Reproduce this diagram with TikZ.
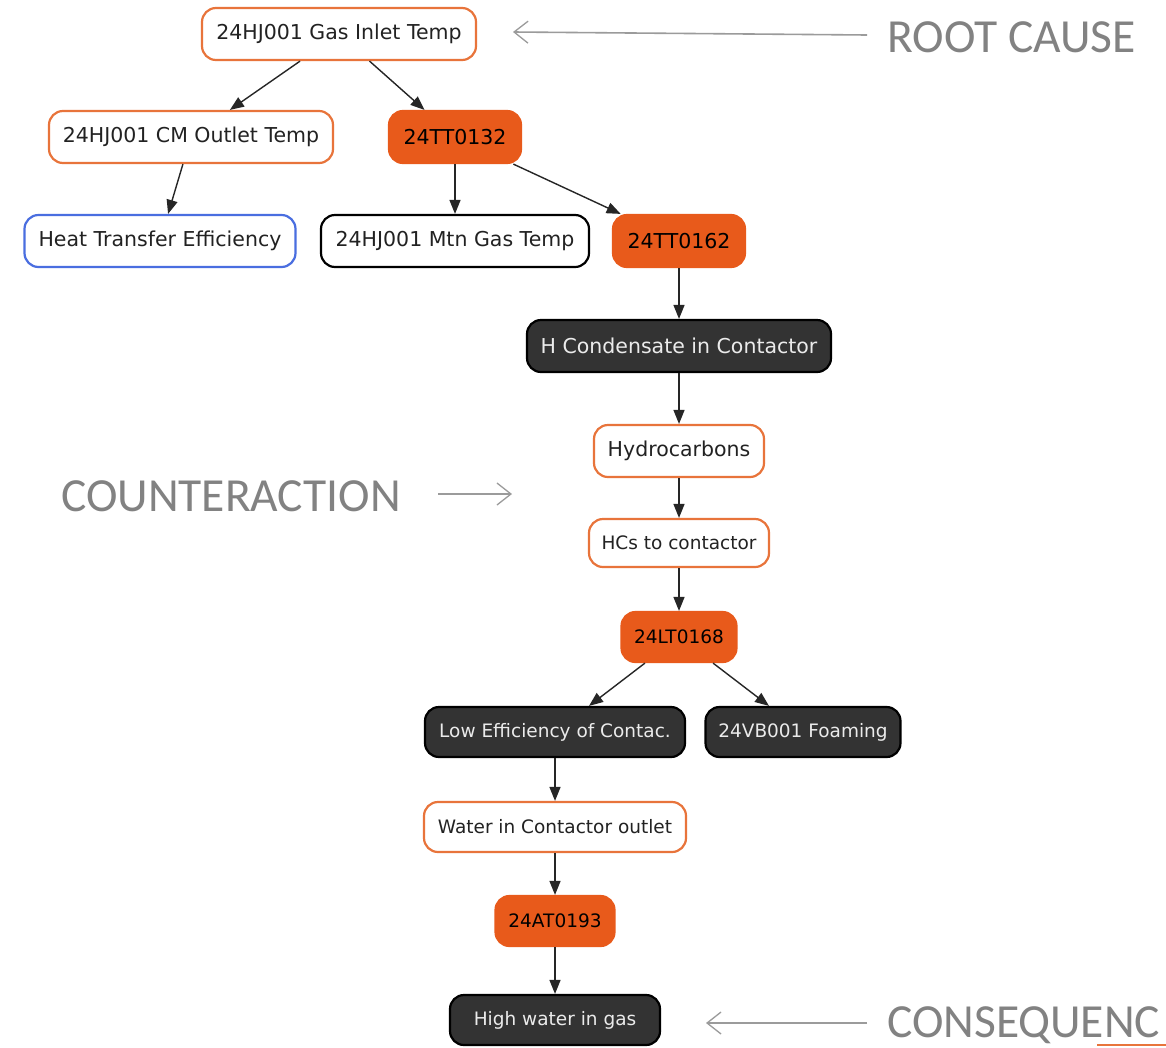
\documentclass[tikz,border=0pt]{standalone}
\usepackage{fontspec}
\setmainfont{DejaVu Sans}
\newfontfamily\annfont{Carlito}
\usetikzlibrary{arrows.meta}
\definecolor{gvorange}{HTML}{E85A1B}
\definecolor{gvorangeline}{HTML}{E8743B}
\definecolor{gvdark}{HTML}{333333}
\definecolor{gvblue}{HTML}{4A6EE0}
\definecolor{anngray}{HTML}{828282}
\definecolor{txt}{HTML}{222222}
\tikzset{
  gv/.style={rounded corners=14pt, line width=2.2pt, inner sep=0pt, minimum height=52pt, font=\fontsize{20.5}{24}\selectfont, text=txt},
  gvsmall/.style={minimum height=50pt, font=\fontsize{18.5}{22}\selectfont},
  ow/.style={gv, draw=gvorangeline, fill=white},
  of/.style={gv, draw=gvorange, fill=gvorange, text=black},
  dk/.style={gv, draw=black, fill=gvdark, text=white!92!black},
  bw/.style={gv, draw=gvblue, fill=white},
  kw/.style={gv, draw=black, fill=white},
  edge/.style={line width=1.4pt, draw=black!85, -{Triangle[length=14pt,width=11pt]}},
  ann/.style={font=\annfont\fontsize{47.5}{50}\selectfont, text=anngray, anchor=west, inner sep=0pt},
  annarrow/.style={line width=1.6pt, draw=anngray!80, -{Straight Barb[length=14pt,width=22pt,line width=1.3pt]}}
}
\begin{document}
\begin{tikzpicture}[x=1pt,y=-1pt]
\clip (0,0) rectangle (1166,1047);
\fill[white] (0,0) rectangle (1166,1047);
\node[ow, minimum width=274pt] (n1) at (339,34) {24HJ001 Gas Inlet Temp};
\node[ow, minimum width=284pt] (n2) at (191,137) {24HJ001 CM Outlet Temp};
\node[of, minimum width=132pt] (n3) at (455,137) {24TT0132};
\node[bw, minimum width=271pt] (n4) at (160,241) {Heat Transfer Efficiency};
\node[kw, minimum width=268pt] (n5) at (455,241) {24HJ001 Mtn Gas Temp};
\node[of, minimum width=132pt] (n6) at (679,241) {24TT0162};
\node[dk, minimum width=304pt] (n7) at (679,346) {H Condensate in Contactor};
\node[ow, minimum width=170pt] (n8) at (679,451) {Hydrocarbons};
\node[ow, gvsmall, minimum width=180pt, minimum height=48pt] (n9) at (679,543) {HCs to contactor};
\node[of, gvsmall, minimum width=115pt] (n10) at (679,637) {24LT0168};
\node[dk, gvsmall, minimum width=260pt] (n11) at (555,732) {Low Efficiency of Contac.};
\node[dk, gvsmall, minimum width=195pt] (n12) at (803,732) {24VB001 Foaming};
\node[ow, gvsmall, minimum width=262pt] (n13) at (555,827) {Water in Contactor outlet};
\node[of, gvsmall, minimum width=119pt] (n14) at (555,921) {24AT0193};
\node[dk, gvsmall, minimum width=210pt] (n15) at (555,1020) {High water in gas};

\draw[edge] (n1) -- (n2);
\draw[edge] (n1) -- (n3);
\draw[edge] (n2) -- (n4);
\draw[edge] (n3) -- (n5);
\draw[edge] (n3) -- (n6);
\draw[edge] (n6) -- (n7);
\draw[edge] (n7) -- (n8);
\draw[edge] (n8) -- (n9);
\draw[edge] (n9) -- (n10);
\draw[edge] (n10) -- (n11);
\draw[edge] (n10) -- (n12);
\draw[edge] (n11) -- (n13);
\draw[edge] (n13) -- (n14);
\draw[edge] (n14) -- (n15);

\node[ann] (root) at (887,37) {ROOT CAUSE};
\node[ann] (counter) at (61,496) {COUNTERACTION};
\node[ann] (conseq) at (887,1025) {CONSEQUENC};
\coordinate (r1) at (867,35);
\coordinate (r2) at (513,32);
\coordinate (c1) at (438,494);
\coordinate (c2) at (512,494);
\coordinate (q1) at (867,1023);
\coordinate (q2) at (706,1023);
\draw[annarrow] (r1) -- (r2);
\draw[annarrow] (c1) -- (c2);
\draw[annarrow] (q1) -- (q2);
\coordinate (u1) at (1097,1045);
\coordinate (u2) at (1166,1045);
\draw[line width=2.5pt, draw=gvorangeline] (u1) -- (u2);
\end{tikzpicture}
\end{document}
